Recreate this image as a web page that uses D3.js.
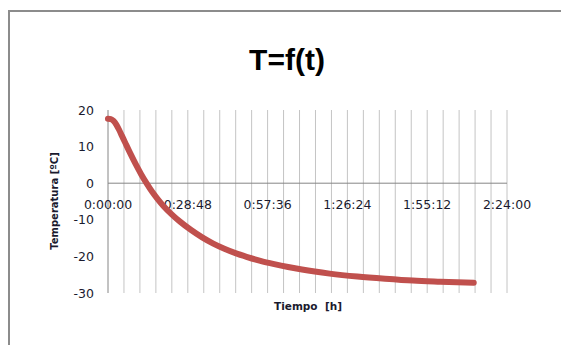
<!DOCTYPE html>
<html>
<head>
<meta charset="utf-8">
<script src="https://cdn.jsdelivr.net/npm/d3@7"></script>
<style>
  body { margin: 0; background: #fff; }
  svg { display: block; }
</style>
</head>
<body>
<svg id="chart" width="561" height="345"></svg>
<script>
// datos: tiempo en minutos, temperatura en ºC
const tiempo = [0, 1, 2, 3, 4, 5, 6, 8, 10, 12, 14, 16, 18, 20, 23, 26, 30, 34, 38, 42, 46, 50, 55, 60, 65, 70, 80, 90, 100, 110, 120, 132];
const temperatura = [17.6, 17.5, 17.0, 16.0, 14.6, 13.0, 11.4, 8.2, 5.2, 2.4, -0.1, -2.4, -4.4, -6.2, -8.5, -10.5, -12.8, -14.8, -16.5, -17.9, -19.1, -20.1, -21.2, -22.1, -22.9, -23.6, -24.7, -25.5, -26.1, -26.6, -26.9, -27.2];
const yTicks = [-30, -20, -10, 0, 10, 20];
const xLabels = ["0:00:00", "0:28:48", "0:57:36", "1:26:24", "1:55:12", "2:24:00"];
const xLabelMin = [0, 28.8, 57.6, 86.4, 115.2, 144];

const svg = d3.select("#chart");

// marco del gráfico
svg.append("rect")
    .attr("x", 9).attr("y", 11)
    .attr("width", 620).attr("height", 400)
    .attr("fill", "none")
    .attr("stroke", "#8c8c8c")
    .attr("stroke-width", 2);

// título
svg.append("text")
    .attr("x", 287).attr("y", 70)
    .attr("text-anchor", "middle")
    .attr("font-family", "Liberation Sans, Arial, sans-serif")
    .attr("font-weight", "bold")
    .attr("font-size", 30)
    .text("T=f(t)");

// escalas
const x = d3.scaleLinear().domain([0, 144]).range([108, 507]);
const y = d3.scaleLinear().domain([-30, 20]).range([293, 110]);

// líneas de división verticales (cada 5:45.6)
const gridMin = d3.range(1, 26).map(i => i * 144 / 25);
svg.append("g")
    .selectAll("line")
    .data(gridMin)
    .enter().append("line")
    .attr("x1", d => x(d)).attr("x2", d => x(d))
    .attr("y1", y(20)).attr("y2", y(-30))
    .attr("stroke", "#c4c4c4")
    .attr("stroke-width", 1);

// eje vertical
svg.append("line")
    .attr("x1", x(0)).attr("x2", x(0))
    .attr("y1", y(20)).attr("y2", y(-30))
    .attr("stroke", "#868686");

// eje horizontal en 0
svg.append("line")
    .attr("x1", x(0)).attr("x2", x(144))
    .attr("y1", y(0)).attr("y2", y(0))
    .attr("stroke", "#868686");

// etiquetas eje Y
svg.append("g")
    .attr("font-family", "DejaVu Sans, sans-serif")
    .attr("font-size", 12.5)
    .attr("fill", "#1a1a2e")
    .attr("text-anchor", "end")
    .selectAll("text")
    .data(yTicks)
    .enter().append("text")
    .attr("x", 94)
    .attr("y", d => y(d))
    .attr("dy", "0.36em")
    .text(d => d);

// etiquetas eje X
svg.append("g")
    .attr("font-family", "DejaVu Sans, sans-serif")
    .attr("font-size", 12.5)
    .attr("fill", "#1a1a2e")
    .attr("text-anchor", "middle")
    .selectAll("text")
    .data(xLabels)
    .enter().append("text")
    .attr("x", (d, i) => x(xLabelMin[i]))
    .attr("y", 209)
    .text(d => d);

// curva
const datos = tiempo.map((t, i) => ({ t: t, T: temperatura[i] }));
const linea = d3.line()
    .x(d => x(d.t))
    .y(d => y(d.T))
    .curve(d3.curveMonotoneX);

svg.append("path")
    .datum(datos)
    .attr("d", linea)
    .attr("fill", "none")
    .attr("stroke", "#c0504d")
    .attr("stroke-width", 6)
    .attr("stroke-linecap", "round")
    .attr("stroke-linejoin", "round");

// títulos de ejes
svg.append("text")
    .attr("x", 308).attr("y", 310)
    .attr("text-anchor", "middle")
    .attr("font-family", "DejaVu Sans, sans-serif")
    .attr("font-weight", "bold")
    .attr("font-size", 10.5)
    .attr("fill", "#1a1a2e")
    .style("white-space", "pre")
    .text("Tiempo  [h]");

svg.append("text")
    .attr("transform", "translate(58,201) rotate(-90)")
    .attr("text-anchor", "middle")
    .attr("font-family", "DejaVu Sans, sans-serif")
    .attr("font-weight", "bold")
    .attr("font-size", 10)
    .attr("fill", "#1a1a2e")
    .text("Temperatura [ºC]");
</script>
</body>
</html>
